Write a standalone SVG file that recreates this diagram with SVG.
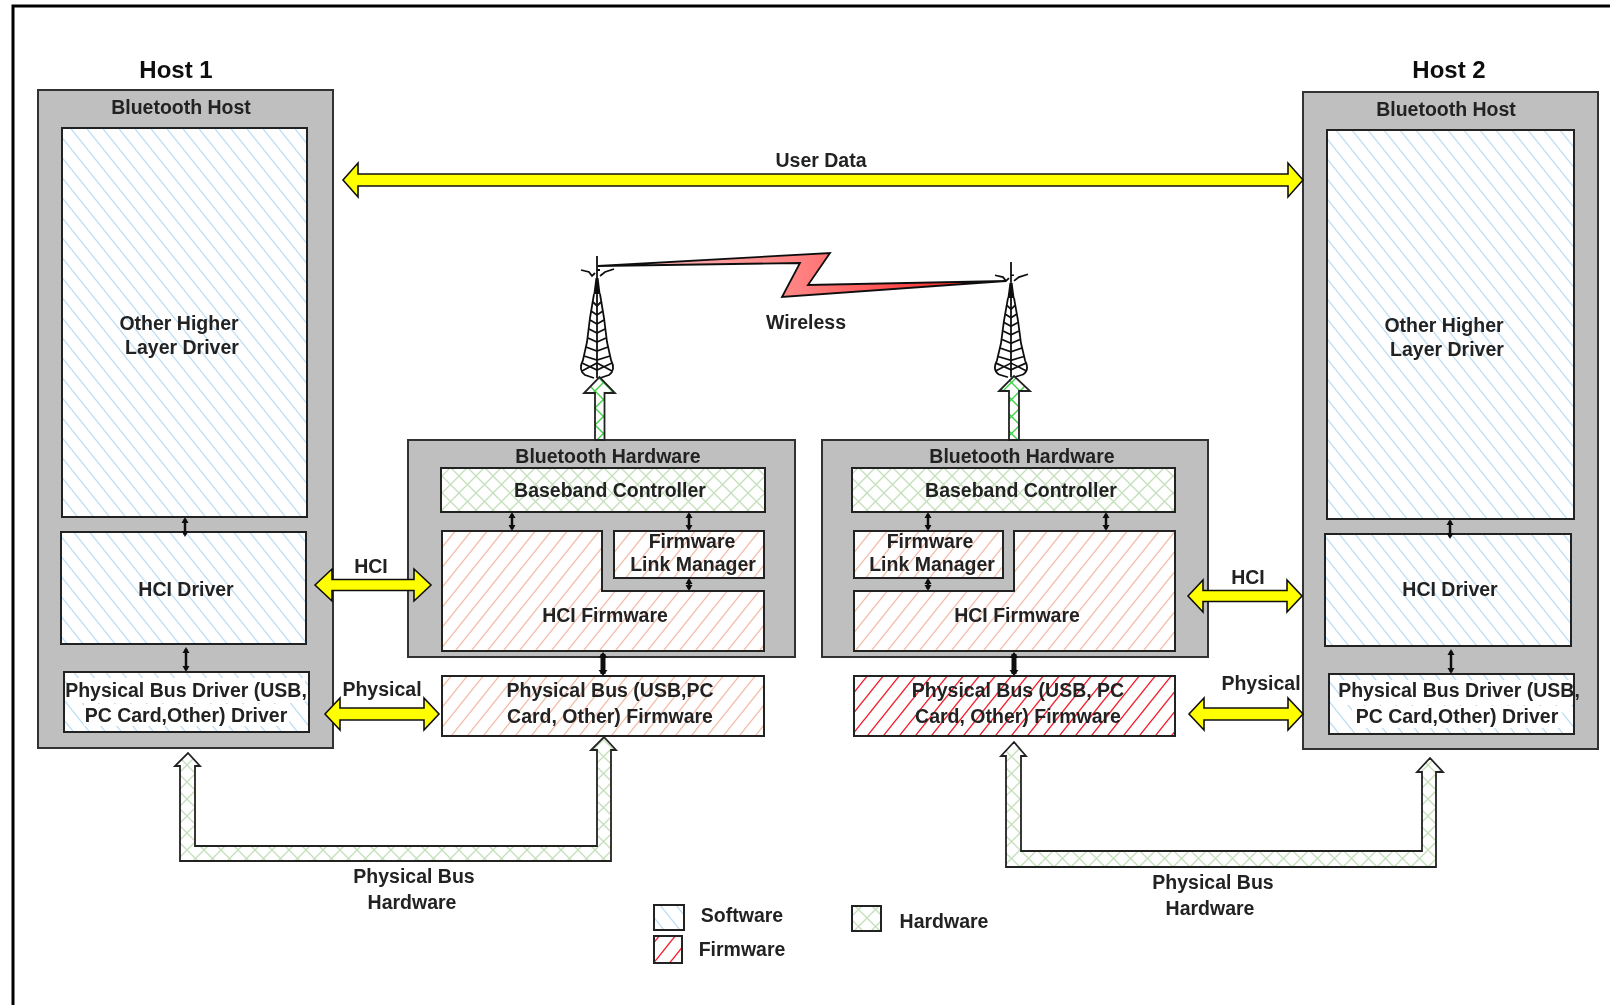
<svg xmlns="http://www.w3.org/2000/svg" xmlns:xlink="http://www.w3.org/1999/xlink" width="1610" height="1005" viewBox="0 0 1610 1005">
<style>
text{font-family:"Liberation Sans",Arial,sans-serif;font-weight:bold;font-size:19.5px;fill:#222;text-anchor:middle}
.big{font-size:24px;fill:#111}
.grey{fill:#bfbfbf;stroke:#333;stroke-width:2}
.box{stroke:#222;stroke-width:2}
.sw{fill:url(#sw)}.fw{fill:url(#fw)}.hw{fill:url(#hw)}.rd{fill:url(#rd)}
.y{fill:#ffff00;stroke:#111;stroke-width:1.6}
.g{fill:url(#hw);stroke:#222;stroke-width:1.8}
.gb{fill:url(#hwb);stroke:#222;stroke-width:1.8}
.s{fill:none;stroke:#111;stroke-width:2.5;marker-start:url(#h);marker-end:url(#h)}
.t{fill:none;stroke:#111;stroke-width:5;marker-start:url(#h2);marker-end:url(#h2)}
.tw{fill:none;stroke:#111;stroke-width:1.8}
</style>
<defs>
<filter id="soft" x="0" y="0" width="1" height="1"><feGaussianBlur stdDeviation="0.55"/></filter>
<pattern id="sw" width="16" height="20" patternUnits="userSpaceOnUse"><rect width="16" height="20" fill="#fff"/><path d="M-2,-2.500 18,22.500M-2,17.500 2,22.500M14,-2.500 18,2.500" stroke="#bcdef6" stroke-width="1.3"/></pattern>
<pattern id="fw" width="16" height="20" patternUnits="userSpaceOnUse"><rect width="16" height="20" fill="#fff"/><path d="M-2,22.500 18,-2.500M-2,2.500 2,-2.500M14,22.500 18,17.500" stroke="#f5bca6" stroke-width="1.3"/></pattern>
<pattern id="rd" width="16" height="20" patternUnits="userSpaceOnUse"><rect width="16" height="20" fill="#fff"/><path d="M-2,22.500 18,-2.500M-2,2.500 2,-2.500M14,22.500 18,17.500" stroke="#f3202c" stroke-width="1.4"/></pattern>
<pattern id="hw" width="17" height="17" patternUnits="userSpaceOnUse"><rect width="17" height="17" fill="#fff"/><path d="M-2,19 19,-2M-2,2 2,-2M15,19 19,15M-2,-2 19,19M-2,15 2,19M15,-2 19,2" stroke="#c4e0ba" stroke-width="1.3"/></pattern>
<pattern id="hwb" width="17" height="17" patternUnits="userSpaceOnUse"><rect width="17" height="17" fill="#fff"/><path d="M-2,19 19,-2M-2,2 2,-2M15,19 19,15M-2,-2 19,19M-2,15 2,19M15,-2 19,2" stroke="#3fd04a" stroke-width="1.4"/></pattern>
<marker id="h" markerUnits="userSpaceOnUse" markerWidth="10" markerHeight="10" refX="4" refY="5" orient="auto-start-reverse"><path d="M0,1.500 6,5 0,8.500Z" fill="#111"/></marker>
<marker id="h2" markerUnits="userSpaceOnUse" markerWidth="12" markerHeight="12" refX="4" refY="6" orient="auto-start-reverse"><path d="M0,1.500 6,6 0,10.500Z" fill="#111"/></marker>
<linearGradient id="zap" x1="0" x2="1" y1="0" y2="0"><stop offset="0" stop-color="#ffc4c4"/><stop offset=".5" stop-color="#ff8080"/><stop offset=".85" stop-color="#f33"/><stop offset="1" stop-color="#e00"/></linearGradient>
<g id="tower">
<path class="tw" d="M0,0V22M-16,14-8,16-5,20-2,17M3,20 8,16 17,13M0,14H3"/>
<path d="M-1.500,22H1.500L3.500,38H-3.500Z" fill="#111"/>
<path class="tw" d="M-3,38-7,62-10,86-14,104Q-19,114-12,119L-3,122M3,38 7,62 10,86 14,104Q19,114 12,119L3,122M0,38V122"/>
<path class="tw" d="M-4,46 0,50 4,46M-6,55 0,59 6,55M-7,64 0,68 7,64M-8,73 0,77 8,73M-9,82 0,86 9,82M-11,91 0,95 11,91M-13,100 0,104 13,100M-15,107 0,114 15,107M-15,115 0,107 15,115"/>
</g>
</defs>
<g filter="url(#soft)">
<rect width="1610" height="1005" fill="#fff"/>
<path d="M13,1005V6H1610" fill="none" stroke="#000" stroke-width="3"/>

<g id="tower-1"><use xlink:href="#tower" href="#tower" transform="translate(597,256)"/></g>
<g id="tower-2"><use xlink:href="#tower" href="#tower" transform="translate(1011,262) scale(1,.945)"/></g>

<g id="host-1">
<text class="big" x="176" y="78">Host 1</text>
<rect class="grey" x="38" y="90" width="295" height="658"/>
<text x="181" y="114">Bluetooth Host</text>
</g>
<g id="other-driver-1"><rect class="box sw" x="62" y="128" width="245" height="389"/><text x="179" y="330">Other Higher</text><text x="182" y="354">Layer Driver</text></g>
<g id="hci-driver-1"><rect class="box sw" x="61" y="532" width="245" height="112"/><text x="186" y="596">HCI Driver</text></g>
<g id="phys-driver-1"><rect class="box sw" x="64" y="672" width="245" height="60"/><rect x="68" y="678" width="237" height="25" fill="#fff"/><rect x="84" y="704" width="205" height="22" fill="#fff"/><text x="186" y="697">Physical Bus Driver (USB,</text><text x="186" y="722">PC Card,Other) Driver</text></g>

<g id="bt-hw-1"><rect class="grey" x="408" y="440" width="387" height="217"/><text x="608" y="463">Bluetooth Hardware</text></g>
<g id="baseband-1"><rect class="box hw" x="441" y="468" width="324" height="44"/><text x="610" y="497">Baseband Controller</text></g>
<g id="hci-fw-1"><path class="box fw" d="M442,531H602V591H764V651H442Z"/><text x="605" y="622">HCI Firmware</text></g>
<g id="lm-1"><rect class="box fw" x="614" y="531" width="150" height="47"/><text x="692" y="548">Firmware</text><text x="693" y="571">Link Manager</text></g>
<g id="phys-fw-1"><rect class="box fw" x="442" y="676" width="322" height="60"/><text x="610" y="697">Physical Bus (USB,PC</text><text x="610" y="723">Card, Other) Firmware</text></g>

<g id="bt-hw-2"><rect class="grey" x="822" y="440" width="386" height="217"/><text x="1022" y="463">Bluetooth Hardware</text></g>
<g id="baseband-2"><rect class="box hw" x="852" y="468" width="323" height="44"/><text x="1021" y="497">Baseband Controller</text></g>
<g id="hci-fw-2"><path class="box fw" d="M1014,531H1175V651H854V591H1014Z"/><text x="1017" y="622">HCI Firmware</text></g>
<g id="lm-2"><rect class="box fw" x="854" y="531" width="149" height="47"/><text x="930" y="548">Firmware</text><text x="932" y="571">Link Manager</text></g>
<g id="phys-fw-2"><rect class="box rd" x="854" y="676" width="321" height="60"/><text x="1018" y="697">Physical Bus (USB, PC</text><text x="1018" y="723">Card, Other) Firmware</text></g>

<g id="host-2">
<text class="big" x="1449" y="78">Host 2</text>
<rect class="grey" x="1303" y="92" width="295" height="657"/>
<text x="1446" y="116">Bluetooth Host</text>
</g>
<g id="other-driver-2"><rect class="box sw" x="1327" y="130" width="247" height="389"/><text x="1444" y="332">Other Higher</text><text x="1447" y="356">Layer Driver</text></g>
<g id="hci-driver-2"><rect class="box sw" x="1325" y="534" width="246" height="112"/><text x="1450" y="596">HCI Driver</text></g>
<g id="phys-driver-2"><rect class="box sw" x="1329" y="674" width="245" height="60"/><rect x="1340" y="680" width="232" height="25" fill="#fff"/><rect x="1352" y="706" width="210" height="22" fill="#fff"/><text x="1459" y="697">Physical Bus Driver (USB,</text><text x="1457" y="723">PC Card,Other) Driver</text></g>

<g id="connectors">
<polygon class="y" points="343,180 358,163 358,174 1288,174 1288,163 1303,180 1288,197 1288,186 358,186 358,197"/>
<polygon class="y" points="315,585 332,569 332,579.500 414,579.500 414,569 431,585 414,601 414,590.500 332,590.500 332,601"/>
<polygon class="y" points="325,714 340,698 340,708 424,708 424,698 439,714 424,730 424,720 340,720 340,730"/>
<polygon class="y" points="1188,596 1203,580 1203,590.500 1287,590.500 1287,580 1302,596 1287,612 1287,601.500 1203,601.500 1203,612"/>
<polygon class="y" points="1189,714 1204,698 1204,708 1288,708 1288,698 1303,714 1288,730 1288,720 1204,720 1204,730"/>
<path class="g" d="M180,861H611V750H616L604,737 591,750H597V846H195V766H200L188,753 175,766H180Z"/>
<path class="g" d="M1006,867H1436V772H1443L1430,758 1417,772H1422V851H1021V756H1026L1014,742 1001,756H1006Z"/>
<path class="gb" d="M595,440V393H584L599.500,377 615,393H604.500V440Z"/>
<path class="gb" d="M1009,440V391H999L1014,376 1030,391H1019V440Z"/>
<polygon points="598,266 830,253 808,285 1006,281 782,297 800,263" fill="url(#zap)" stroke="#111" stroke-width="1.8"/>
<path class="s" d="M512,514V529"/><path class="s" d="M689,514V529"/><path class="s" d="M689,580V589"/>
<path class="t" d="M603,654V674"/>
<path class="s" d="M185,519V535"/><path class="s" d="M186,649V670"/>
<path class="s" d="M928,514V529"/><path class="s" d="M1106,514V529"/><path class="s" d="M928,580V589"/>
<path class="t" d="M1014,654V674"/>
<path class="s" d="M1450,521V537"/><path class="s" d="M1451,651V672"/>
</g>

<g id="labels">
<text x="821" y="167">User Data</text>
<text x="806" y="329">Wireless</text>
<text x="371" y="573">HCI</text>
<text x="382" y="696">Physical</text>
<text x="1248" y="584">HCI</text>
<text x="1261" y="690">Physical</text>
<text x="414" y="883">Physical Bus</text>
<text x="412" y="909">Hardware</text>
<text x="1213" y="889">Physical Bus</text>
<text x="1210" y="915">Hardware</text>
</g>

<g id="legend">
<rect class="box sw" x="654" y="905" width="30" height="25"/><text x="742" y="922">Software</text>
<rect class="box rd" x="654" y="936" width="28" height="27"/><text x="742" y="956">Firmware</text>
<rect class="box hw" x="852" y="906" width="29" height="25"/><text x="944" y="928">Hardware</text>
</g>
</g>
</svg>
